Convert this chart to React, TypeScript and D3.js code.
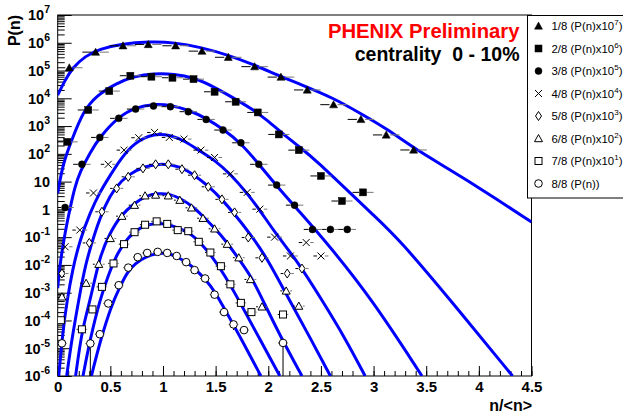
import React, { useEffect, useRef } from "react";
import * as d3 from "d3";

// ---- values (n/<n>, scaled P(n)) ----
// 1/8 (x10^7) filled triangles
const s1X = [0.11, 0.36, 0.62, 0.86, 1.12, 1.37, 1.62, 1.87, 2.12, 2.37, 2.62, 2.88, 3.12, 3.38];
const s1Y = [1.26e5, 4.6e5, 7.8e5, 8.7e5, 7.8e5, 5.0e5, 3.0e5, 1.38e5, 5.8e4, 2.0e4, 5.9e3, 1.74e3, 4.8e2, 1.38e2];
// 2/8 (x10^6) filled squares
const s2X = [0.09, 0.29, 0.49, 0.69, 0.89, 1.09, 1.29, 1.49, 1.69, 1.9, 2.1, 2.29, 2.5, 2.7, 2.9];
const s2Y = [2.7e2, 3.8e3, 1.82e4, 6.5e4, 6.0e4, 5.5e4, 4.9e4, 1.72e4, 7.5e3, 3.1e3, 5.0e2, 1.36e2, 16, 2.0, 4.1];
// 3/8 (x10^5) filled circles
const s3X = [0.07, 0.23, 0.4, 0.58, 0.74, 0.91, 1.07, 1.24, 1.41, 1.57, 1.74, 1.91, 2.08, 2.25, 2.42, 2.59, 2.75];
const s3Y = [1.17, 42, 3.9e2, 1.9e3, 4.1e3, 5.3e3, 5.0e3, 3.3e3, 1.74e3, 7.2e2, 2.5e2, 42, 7.5, 1.42, 0.19, 0.19, 0.19];
// 4/8 (x10^4) crosses
const s4X = [0.07, 0.21, 0.34, 0.48, 0.63, 0.77, 0.92, 1.06, 1.2, 1.36, 1.49, 1.64, 1.8, 1.92, 2.06, 2.21, 2.36, 2.5];
const s4Y = [4.5e-2, 0.18, 3.9, 42, 1.36e2, 3.8e2, 5.9e2, 3.9e2, 3.4e2, 1.36e2, 74, 19, 4.1, 1.02, 0.1, 2.1e-2, 6.4e-2, 2.1e-2];
// 5/8 (x10^3) open diamonds
const s5X = [0.04, 0.3, 0.42, 0.56, 0.67, 0.81, 0.93, 1.05, 1.18, 1.3, 1.43, 1.56, 1.68, 1.81, 1.94, 2.18, 2.32];
const s5Y = [4.9e-3, 6.2e-2, 0.82, 5.7, 14.9, 30, 42, 42, 28, 17, 6.5, 2.3, 0.78, 9.7e-2, 1.8e-2, 4.9e-3, 7.4e-3];
// 6/8 (x10^2) open triangles
const s6X = [0.04, 0.27, 0.39, 0.5, 0.61, 0.73, 0.83, 0.93, 1.05, 1.16, 1.27, 1.38, 1.49, 1.61, 1.72, 1.83, 1.94, 2.17, 2.29];
const s6Y = [7.1e-4, 2.2e-3, 1.06e-2, 9.0e-2, 0.57, 1.42, 3.1, 3.3, 3.1, 2.15, 1.14, 0.48, 0.2, 5.6e-2, 1.82e-2, 3.0e-3, 3.1e-4, 1.16e-3, 3.3e-4];
// 7/8 (x10) open squares
const s7X = [0.03, 0.23, 0.33, 0.42, 0.53, 0.63, 0.73, 0.83, 0.94, 1.04, 1.14, 1.24, 1.34, 1.45, 1.55, 1.64, 1.74, 1.84, 2.14];
const s7Y = [1.02e-4, 4.8e-5, 2.5e-4, 1.62e-3, 1.13e-2, 5.6e-2, 0.151, 0.28, 0.37, 0.3, 0.179, 0.164, 6.8e-2, 2.8e-2, 9.0e-3, 2.0e-3, 4.3e-4, 2.0e-4, 1.64e-4];
// 8/8 open circles
const s8X = [0.04, 0.31, 0.4, 0.48, 0.58, 0.67, 0.76, 0.85, 0.95, 1.04, 1.13, 1.22, 1.3, 1.4, 1.49, 1.58, 1.67, 1.77, 2.14];
const s8Y = [1.5e-5, 1.48e-5, 3.2e-5, 4.1e-4, 1.86e-3, 8.0e-3, 1.9e-2, 2.7e-2, 2.95e-2, 2.7e-2, 2.1e-2, 1.26e-2, 6.5e-3, 3.25e-3, 8.5e-4, 2.0e-4, 7.2e-5, 4.5e-5, 1.55e-5];
// lower error ends that run off the bottom of the plot (8/8 series)
const s8LowErr: Record<number, number> = { 1: 1e-7, 16: 4.5e-5, 18: 1e-7 };

// half bin widths (horizontal error bars)
const binHalf = [0.126, 0.1, 0.083, 0.071, 0.0625, 0.056, 0.05, 0.045];

// ---- NBD fit curves (blue) ----
const fit1X = [0, 0.07, 0.14, 0.26, 0.4, 0.59, 0.88, 1.11, 1.35, 1.62, 1.87, 2.11, 2.3, 2.62, 2.87, 3.13, 3.38, 3.73, 4.04, 4.5];
const fit1Y = [1.31e4, 4.5e4, 1.23e5, 3.33e5, 5.96e5, 9.0e5, 1.11e6, 1.02e6, 7.0e5, 3.62e5, 1.58e5, 6.3e4, 3.27e4, 1.02e4, 2.94e3, 7.8e2, 1.61e2, 26, 4.9, 0.35];
const fit2X = [0, 0.05, 0.14, 0.24, 0.36, 0.56, 0.73, 0.91, 1.11, 1.29, 1.49, 1.67, 1.83, 1.99, 2.14, 2.3, 2.46, 2.75, 2.99, 3.25, 3.73, 4.32];
const fit2Y = [3.85, 46, 3.7e2, 3.2e3, 1.2e4, 3.55e4, 6.3e4, 7.8e4, 7.5e4, 5.6e4, 2.54e4, 1.02e4, 4.5e3, 1.64e3, 5.2e2, 1.75e2, 55, 4.9, 0.67, 7.8e-2, 5.4e-4, 1e-6];
const fit3X = [0, 0.02, 0.07, 0.12, 0.16, 0.21, 0.31, 0.4, 0.57, 0.74, 0.91, 1.08, 1.24, 1.41, 1.57, 1.74, 1.91, 2.08, 2.3, 2.59, 2.99, 3.46];
const fit3Y = [1.45e-3, 9.8e-3, 0.151, 1.2, 5.8, 22, 1.16e2, 4.0e2, 2.1e3, 4.8e3, 6.2e3, 5.7e3, 3.8e3, 1.94e3, 7.8e2, 2.44e2, 43, 6.9, 0.8, 4.4e-2, 5.4e-4, 1e-6];
const fit4X = [0.01, 0.05, 0.09, 0.14, 0.21, 0.31, 0.4, 0.5, 0.59, 0.73, 0.92, 1.07, 1.21, 1.35, 1.49, 1.64, 1.79, 1.92, 2.06, 2.27, 2.51, 2.73, 2.92];
const fit4Y = [1e-6, 4.5e-5, 5.4e-4, 6.5e-3, 7.8e-2, 0.8, 4.2, 17, 60, 2.65e2, 5.6e2, 4.7e2, 2.9e2, 1.26e2, 60, 18.6, 4.2, 0.94, 0.151, 1.48e-2, 5.4e-4, 2.3e-5, 1e-6];
const fit5X = [0.085, 0.14, 0.2, 0.26, 0.36, 0.45, 0.54, 0.67, 0.83, 0.99, 1.16, 1.3, 1.43, 1.56, 1.68, 1.83, 1.99, 2.2, 2.4, 2.59];
const fit5Y = [1e-6, 2.9e-5, 5.4e-4, 9.8e-3, 0.179, 1.42, 5.8, 18.6, 36, 46, 36, 17, 6.9, 2.3, 0.67, 0.128, 1.75e-2, 5.4e-4, 2.3e-5, 1e-6];
const fit6X = [0.17, 0.23, 0.31, 0.4, 0.5, 0.6, 0.73, 0.83, 0.95, 1.07, 1.16, 1.28, 1.38, 1.49, 1.6, 1.7, 1.83, 1.94, 2.11, 2.32];
const fit6Y = [1e-6, 4.5e-5, 5.4e-4, 2.2e-2, 0.151, 0.62, 1.68, 3.0, 3.85, 3.55, 2.54, 1.31, 0.57, 0.21, 7.2e-2, 2.07e-2, 4.3e-3, 6.3e-4, 2.9e-5, 1e-6];
const fit7X = [0.24, 0.31, 0.4, 0.48, 0.57, 0.67, 0.78, 0.95, 1.11, 1.26, 1.35, 1.48, 1.59, 1.7, 1.9, 2.11];
const fit7Y = [1e-6, 2.3e-5, 5.4e-4, 4.3e-3, 2.9e-2, 0.1, 0.23, 0.35, 0.25, 0.139, 6.6e-2, 1.75e-2, 3.9e-3, 7.5e-4, 2.9e-5, 1e-6];
const fit8X = [0.32, 0.4, 0.51, 0.59, 0.66, 0.74, 0.83, 0.94, 1.05, 1.14, 1.24, 1.35, 1.45, 1.54, 1.73, 1.93];
const fit8Y = [1e-6, 1.64e-5, 3.5e-4, 1.58e-3, 5.5e-3, 1.16e-2, 1.9e-2, 2.65e-2, 2.65e-2, 1.9e-2, 1.16e-2, 5.0e-3, 1.86e-3, 5.4e-4, 2.7e-5, 1e-6];

// ---- axis / legend text ----
const xTicks = [0, 0.5, 1, 1.5, 2, 2.5, 3, 3.5, 4, 4.5];
const xTickLabels = ["0", "0.5", "1", "1.5", "2", "2.5", "3", "3.5", "4", "4.5"];
const yDecades = [7, 6, 5, 4, 3, 2, 1, 0, -1, -2, -3, -4, -5, -6];
const legendText = ["1/8 (P(n)x10", "2/8 (P(n)x10", "3/8 (P(n)x10", "4/8 (P(n)x10", "5/8 (P(n)x10", "6/8 (P(n)x10", "7/8 (P(n)x10", "8/8 (P(n))"];
const legendExp = ["7", "6", "5", "4", "3", "2", "1", ""];
const shapes = ["triFill", "sqFill", "circFill", "times", "diamond", "triOpen", "sqOpen", "circOpen"];

const seriesX = [s1X, s2X, s3X, s4X, s5X, s6X, s7X, s8X];
const seriesY = [s1Y, s2Y, s3Y, s4Y, s5Y, s6Y, s7Y, s8Y];
const fitsX = [fit1X, fit2X, fit3X, fit4X, fit5X, fit6X, fit7X, fit8X];
const fitsY = [fit1Y, fit2Y, fit3Y, fit4Y, fit5Y, fit6Y, fit7Y, fit8Y];

const FONT = "'Liberation Sans', Arial, Helvetica, sans-serif";

// draw one ROOT-like marker
const drawMarker = (g: any, shape: string, cx: number, cy: number) => {
  switch (shape) {
    case "triFill":
    case "triOpen":
      g.append("path")
        .attr("d", `M${cx},${cy - 4}L${cx + 4},${cy + 3.2}L${cx - 4},${cy + 3.2}Z`)
        .attr("fill", shape === "triFill" ? "#000" : "#fff")
        .attr("stroke", "#000")
        .attr("stroke-width", shape === "triFill" ? 0.5 : 1);
      break;
    case "sqFill":
    case "sqOpen":
      g.append("rect")
        .attr("x", cx - 3.5)
        .attr("y", cy - 3.5)
        .attr("width", 7)
        .attr("height", 7)
        .attr("fill", shape === "sqFill" ? "#000" : "#fff")
        .attr("stroke", "#000")
        .attr("stroke-width", shape === "sqFill" ? 0.5 : 1);
      break;
    case "circFill":
    case "circOpen":
      g.append("circle")
        .attr("cx", cx)
        .attr("cy", cy)
        .attr("r", shape === "circFill" ? 3.5 : 3.8)
        .attr("fill", shape === "circFill" ? "#000" : "#fff")
        .attr("stroke", "#000")
        .attr("stroke-width", shape === "circFill" ? 0.5 : 1);
      break;
    case "times":
      g.append("path")
        .attr("d", `M${cx - 3.5},${cy - 3.5}L${cx + 3.5},${cy + 3.5}M${cx - 3.5},${cy + 3.5}L${cx + 3.5},${cy - 3.5}`)
        .attr("stroke", "#000")
        .attr("stroke-width", 1);
      break;
    case "diamond":
      g.append("path")
        .attr("d", `M${cx},${cy - 4.5}L${cx + 3},${cy}L${cx},${cy + 4.5}L${cx - 3},${cy}Z`)
        .attr("fill", "#fff")
        .attr("stroke", "#000")
        .attr("stroke-width", 1);
      break;
  }
};

const App: React.FC = () => {
  const svgRef = useRef<SVGSVGElement | null>(null);

  useEffect(() => {
    document.body.style.margin = "0";
    const svg = d3.select(svgRef.current);
    svg.selectAll("*").remove();

    const left = 57.7, right = 531.5, top = 15, bottom = 376;
    const x = d3.scaleLinear().domain([0, 4.5]).range([left, right]);
    const y = d3.scaleLog().domain([1e-6, 1e7]).range([bottom, top]);

    svg.append("rect").attr("width", 623).attr("height", 417).attr("fill", "#fff");

    svg.append("clipPath")
      .attr("id", "frameClip")
      .append("rect")
      .attr("x", left)
      .attr("y", top)
      .attr("width", right - left)
      .attr("height", bottom - top);

    // y axis: minor + major ticks pointing into the frame
    const minorY: number[] = [];
    yDecades.slice(1).forEach((e) => {
      for (let m = 2; m <= 9; m++) minorY.push(m * Math.pow(10, e));
    });
    const yAxisG = svg.append("g").attr("transform", `translate(${left},0)`);
    yAxisG.append("g")
      .call(d3.axisLeft(y).tickValues(minorY).tickSize(-7).tickSizeOuter(0).tickFormat(() => ""))
      .call((g) => g.select(".domain").remove());
    yAxisG.append("g")
      .call(d3.axisLeft(y).tickValues(yDecades.map((e) => Math.pow(10, e))).tickSize(-14).tickSizeOuter(0).tickFormat(() => ""))
      .call((g) => g.select(".domain").remove());

    // y tick labels 10^e
    yDecades.forEach((e) => {
      const t = svg.append("text")
        .attr("x", 50)
        .attr("y", y(Math.pow(10, e)) + 5.3)
        .attr("text-anchor", "end")
        .attr("font-family", FONT)
        .attr("font-weight", "bold")
        .attr("font-size", 14.5);
      if (e === 0) t.text("1");
      else if (e === 1) t.text("10");
      else {
        t.append("tspan").text("10");
        t.append("tspan").attr("dy", -7).attr("font-size", 10.5).text(String(e));
      }
    });

    // x axis
    const xAxisG = svg.append("g").attr("transform", `translate(0,${bottom})`);
    xAxisG.append("g")
      .call(d3.axisBottom(x).tickValues(d3.range(0, 4.5001, 0.1)).tickSize(-5).tickSizeOuter(0).tickFormat(() => ""))
      .call((g) => g.select(".domain").remove());
    xAxisG.append("g")
      .call(
        d3.axisBottom(x)
          .tickValues(xTicks)
          .tickSize(-10)
          .tickSizeOuter(0)
          .tickPadding(5.5)
          .tickFormat((d, i) => xTickLabels[i])
      )
      .call((g) => g.select(".domain").remove())
      .call((g) =>
        g.selectAll("text")
          .attr("font-family", FONT)
          .attr("font-weight", "bold")
          .attr("font-size", 15)
          .attr("fill", "#000")
      );
    svg.selectAll(".tick line").attr("stroke", "#000").attr("stroke-width", 1);

    // frame
    svg.append("rect")
      .attr("x", left)
      .attr("y", top)
      .attr("width", right - left)
      .attr("height", bottom - top)
      .attr("fill", "none")
      .attr("stroke", "#000")
      .attr("stroke-width", 1);

    const plot = svg.append("g").attr("clip-path", "url(#frameClip)");

    // fit curves (smoothed through the sampled points)
    const line = d3.line<[number, number]>()
      .x((d) => x(d[0]))
      .y((d) => y(d[1]))
      .curve(d3.curveBasis);
    fitsX.forEach((fx, i) => {
      const pts = fx.map((v, j) => [v, fitsY[i][j]] as [number, number]);
      plot.append("path")
        .attr("d", line(pts))
        .attr("fill", "none")
        .attr("stroke", "#0000ff")
        .attr("stroke-width", 3);
    });

    // data points with horizontal bin bars
    seriesX.forEach((sx, i) => {
      const g = plot.append("g");
      sx.forEach((v, j) => {
        const cx = x(v);
        const cy = y(seriesY[i][j]);
        const x0 = x(v - binHalf[i]);
        const x1 = x(v + binHalf[i]);
        if (cx - 4 > x0)
          g.append("line").attr("x1", x0).attr("x2", cx - 4).attr("y1", cy).attr("y2", cy)
            .attr("stroke", "#000").attr("stroke-width", 1);
        if (x1 > cx + 4)
          g.append("line").attr("x1", cx + 4).attr("x2", x1).attr("y1", cy).attr("y2", cy)
            .attr("stroke", "#777").attr("stroke-width", 1);
        if (i === 7 && s8LowErr[j] !== undefined) {
          g.append("line").attr("x1", cx).attr("x2", cx)
            .attr("y1", cy + 4).attr("y2", Math.min(y(s8LowErr[j]), bottom + 5))
            .attr("stroke", "#000").attr("stroke-width", 1);
        }
        drawMarker(g, shapes[i], cx, cy);
      });
    });

    // titles
    svg.append("text")
      .attr("transform", `translate(20,${top}) rotate(-90)`)
      .attr("text-anchor", "end")
      .attr("font-family", FONT)
      .attr("font-weight", "bold")
      .attr("font-size", 16)
      .text("P(n)");
    svg.append("text")
      .attr("x", 532)
      .attr("y", 411)
      .attr("text-anchor", "end")
      .attr("font-family", FONT)
      .attr("font-weight", "bold")
      .attr("font-size", 16)
      .text("n/<n>");
    svg.append("text")
      .attr("x", 519.5)
      .attr("y", 37.5)
      .attr("text-anchor", "end")
      .attr("font-family", FONT)
      .attr("font-weight", "bold")
      .attr("font-size", 20.3)
      .attr("fill", "#ff0000")
      .text("PHENIX Preliminary");
    svg.append("text")
      .attr("x", 519.5)
      .attr("y", 60.5)
      .attr("text-anchor", "end")
      .attr("font-family", FONT)
      .attr("font-weight", "bold")
      .attr("font-size", 19.5)
      .attr("fill", "#000")
      .style("white-space", "pre")
      .text("centrality  0 - 10%");

    // legend (runs off the right edge, as in the original)
    const lg = svg.append("g");
    lg.append("rect")
      .attr("x", 527.5)
      .attr("y", 15.5)
      .attr("width", 120)
      .attr("height", 182.5)
      .attr("fill", "#fff")
      .attr("stroke", "#000")
      .attr("stroke-width", 1);
    legendText.forEach((txt, i) => {
      const cy = 26 + i * 22.5;
      drawMarker(lg, shapes[i], 538.5, cy);
      const t = lg.append("text")
        .attr("x", 551.5)
        .attr("y", cy + 4)
        .attr("font-family", FONT)
        .attr("font-size", 11.4)
        .attr("fill", "#000");
      t.append("tspan").text(txt);
      if (legendExp[i]) {
        t.append("tspan").attr("dy", -5).attr("font-size", 8).text(legendExp[i]);
        t.append("tspan").attr("dy", 5).text(")");
      }
    });
  }, []);

  return <svg ref={svgRef} width={623} height={417} style={{ display: "block" }} />;
};

export default App;
